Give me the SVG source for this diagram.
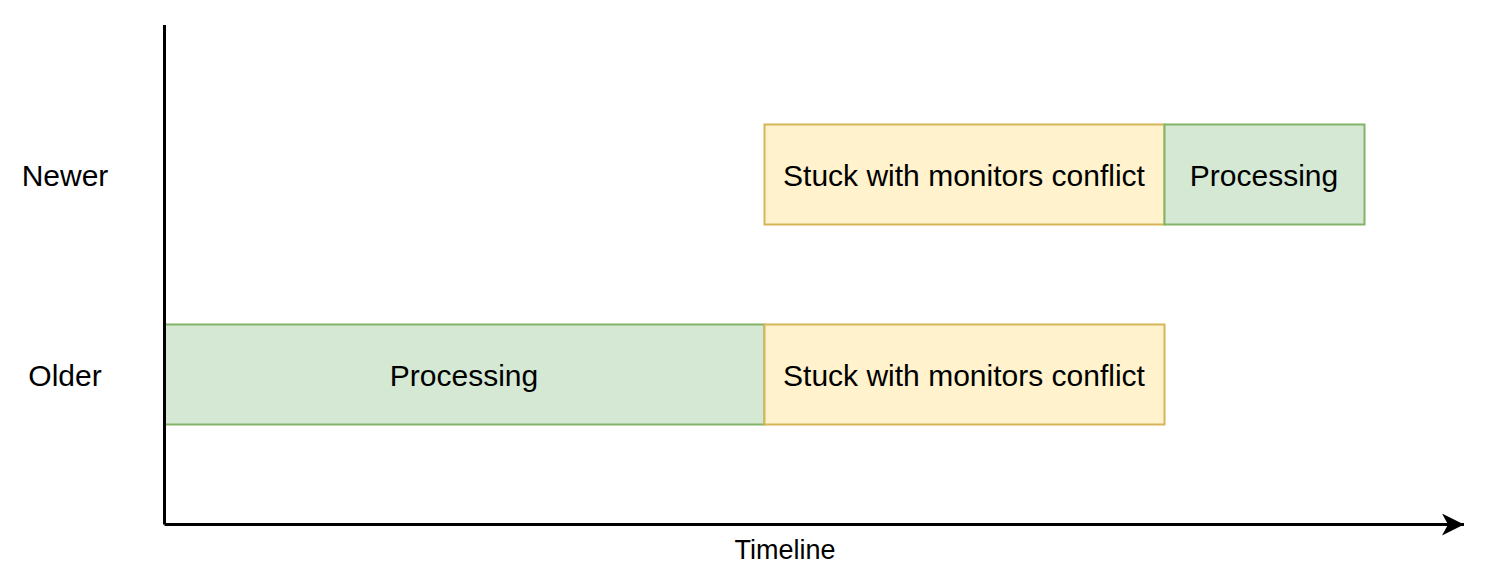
<svg xmlns="http://www.w3.org/2000/svg" width="1499" height="588" viewBox="0 0 1499 588">
<style>
.t{font-family:"Liberation Sans",Arial,sans-serif;font-size:30px;fill:#000;text-anchor:middle}
.g{fill:#d5e8d4;stroke:#82b366;stroke-width:2}
.y{fill:#fff2cc;stroke:#d6b656;stroke-width:2}
</style>
<defs>
<marker id="arr" markerUnits="userSpaceOnUse" markerWidth="24" markerHeight="24" refX="22" refY="11" orient="auto">
<path d="M0,0 L22,11 L0,22 L6,11 Z" fill="#000"/>
</marker>
</defs>
<rect width="1499" height="588" fill="#fff"/>
<g id="label-newer"><text class="t" x="65" y="186">Newer</text></g>
<g id="label-older"><text class="t" x="65" y="386">Older</text></g>
<g id="older-processing"><rect class="g" x="164.5" y="324.5" width="600" height="100"/><text class="t" x="464" y="386">Processing</text></g>
<g id="older-stuck"><rect class="y" x="764.5" y="324.5" width="400" height="100"/><text class="t" x="964" y="386">Stuck with monitors conflict</text></g>
<g id="newer-stuck"><rect class="y" x="764.5" y="124.5" width="400" height="100"/><text class="t" x="964" y="186">Stuck with monitors conflict</text></g>
<g id="newer-processing"><rect class="g" x="1164.5" y="124.5" width="200" height="100"/><text class="t" x="1264" y="186">Processing</text></g>
<g id="label-timeline"><text class="t" x="785" y="559" style="font-size:27px">Timeline</text></g>
<g id="connectors">
<path d="M164.5,25 V524.5" stroke="#000" stroke-width="3" fill="none"/>
<path d="M164.5,524.5 H1464" stroke="#000" stroke-width="3" fill="none" marker-end="url(#arr)"/>
</g>
</svg>
